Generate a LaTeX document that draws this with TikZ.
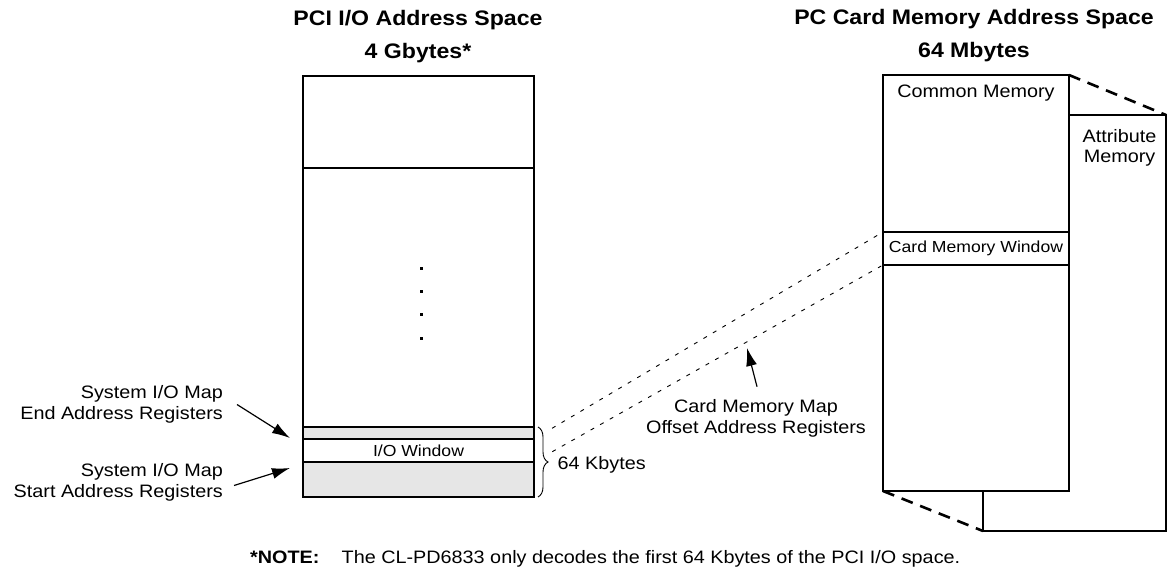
\documentclass[tikz,border=0pt]{standalone}
\usepackage{fontspec}
\setmainfont{Liberation Sans}[FakeStretch=1.1]
\usetikzlibrary{arrows.meta,positioning,decorations.pathreplacing}
\definecolor{regfill}{HTML}{E6E6E6}
\newcommand\lblfont{\fontsize{18}{20.5}\selectfont}
\newcommand\winfont{\fontsize{16}{18}\selectfont}
\newcommand\headfont{\fontsize{21}{33}\selectfont\bfseries}
\tikzset{
    regarrow/.style={-{Latex[length=18pt, width=11pt]}, line width=1.2pt},
    seg/.style={draw, line width=2.8pt, fill=white, inner sep=0pt, outer sep=0pt, minimum width=231pt},
    mapline/.style={dash pattern=on 4pt off 7pt, line width=0.9pt},
    edgedash/.style={line width=2.6pt, dash pattern=on 12pt off 8pt}
}

\begin{document}
\begin{tikzpicture}[
            x=1pt, y=-1pt,
            lbl/.style={font=\lblfont, inner sep=0pt, align=center},
            head/.style={font=\headfont, inner sep=0pt, align=center}
        ]
            \useasboundingbox (0,0) rectangle (1167,568);

            % Titles
            \node[head] (pcihead) at (418,37) {PCI I/O Address Space\\4 Gbytes*};
            \node[head] (cardhead) at (974,36) {PC Card Memory Address Space\\64 Mbytes};

            % PCI I/O space
            \node[seg, minimum height=92pt, anchor=north] (pcitop) at (418.5,76) {};
            \node[seg, minimum height=259pt, below=0pt of pcitop] (pcimid) {};
            \node[seg, minimum height=12pt, fill=regfill, below=0pt of pcimid] (endreg) {};
            \node[seg, minimum height=23pt, font=\winfont, below=0pt of endreg] (iowin) {I/O Window};
            \node[seg, minimum height=35pt, fill=regfill, below=0pt of iowin] (startreg) {};
            \foreach \y in {268,291,314,338}
                \fill (419.5,\y-1.5) rectangle +(3,3);

            % Register labels
            \node[lbl, align=right, anchor=east] (endlbl) at (223,404.5) {System I/O Map\\End Address Registers};
            \node[lbl, align=right, anchor=east] (startlbl) at (223,482.5) {System I/O Map\\Start Address Registers};
            \coordinate (endtip) at (290,438);
            \coordinate (starttip) at (290,468);
            \draw[regarrow] ([xshift=14pt]endlbl.east) -- (endtip);
            \draw[regarrow] ([xshift=11pt,yshift=-3pt]startlbl.east) -- (starttip);

            % 64 Kbytes
            \draw[line width=0.9pt, decorate, decoration={brace, amplitude=10pt}] ([xshift=4pt]endreg.north east) -- ([xshift=4pt]startreg.south east);
            \node[lbl, anchor=base west] (sizelbl) at (557.5,469) {64 Kbytes};

            % PC Card space
            \node[seg, minimum width=183pt, minimum height=416pt] (ambox) at (1074.5,323) {};
            \node[lbl] (amlbl) at (1119.5,148) {Attribute\\Memory};
            \node[seg, minimum width=186pt, minimum height=157pt, anchor=north] (cmtop) at (976,75) {};
            \node[seg, minimum width=186pt, minimum height=33pt, font=\winfont, below=0pt of cmtop] (cmwin) {Card Memory Window};
            \node[seg, minimum width=186pt, minimum height=226pt, below=0pt of cmwin] (cmbot) {};
            \node[lbl, anchor=base] (cmlbl) at (976,97.3) {Common Memory};
            \draw[edgedash] (cmtop.north east) -- (ambox.north east);
            \draw[edgedash] (cmbot.south west) -- (ambox.south west);

            % Window mapping
            \draw[mapline, shorten <=21pt, shorten >=2pt] (iowin.north east) -- (cmwin.north west);
            \draw[mapline, shorten <=21pt, shorten >=2pt] (iowin.south east) -- (cmwin.south west);
            \node[lbl] (cmmlbl) at (756,418.5) {Card Memory Map\\Offset Address Registers};
            \coordinate (cmmtip) at (747,348);
            \draw[regarrow] ([xshift=1pt,yshift=13pt]cmmlbl.north) -- (cmmtip);

            % Note
            \node[lbl, font=\lblfont\bfseries, anchor=base west] (notehead) at (250,563) {*NOTE:};
            \node[lbl, anchor=base west] (notetext) at (341.5,563) {The CL-PD6833 only decodes the first 64 Kbytes of the PCI I/O space.};
        \end{tikzpicture}
\end{document}
